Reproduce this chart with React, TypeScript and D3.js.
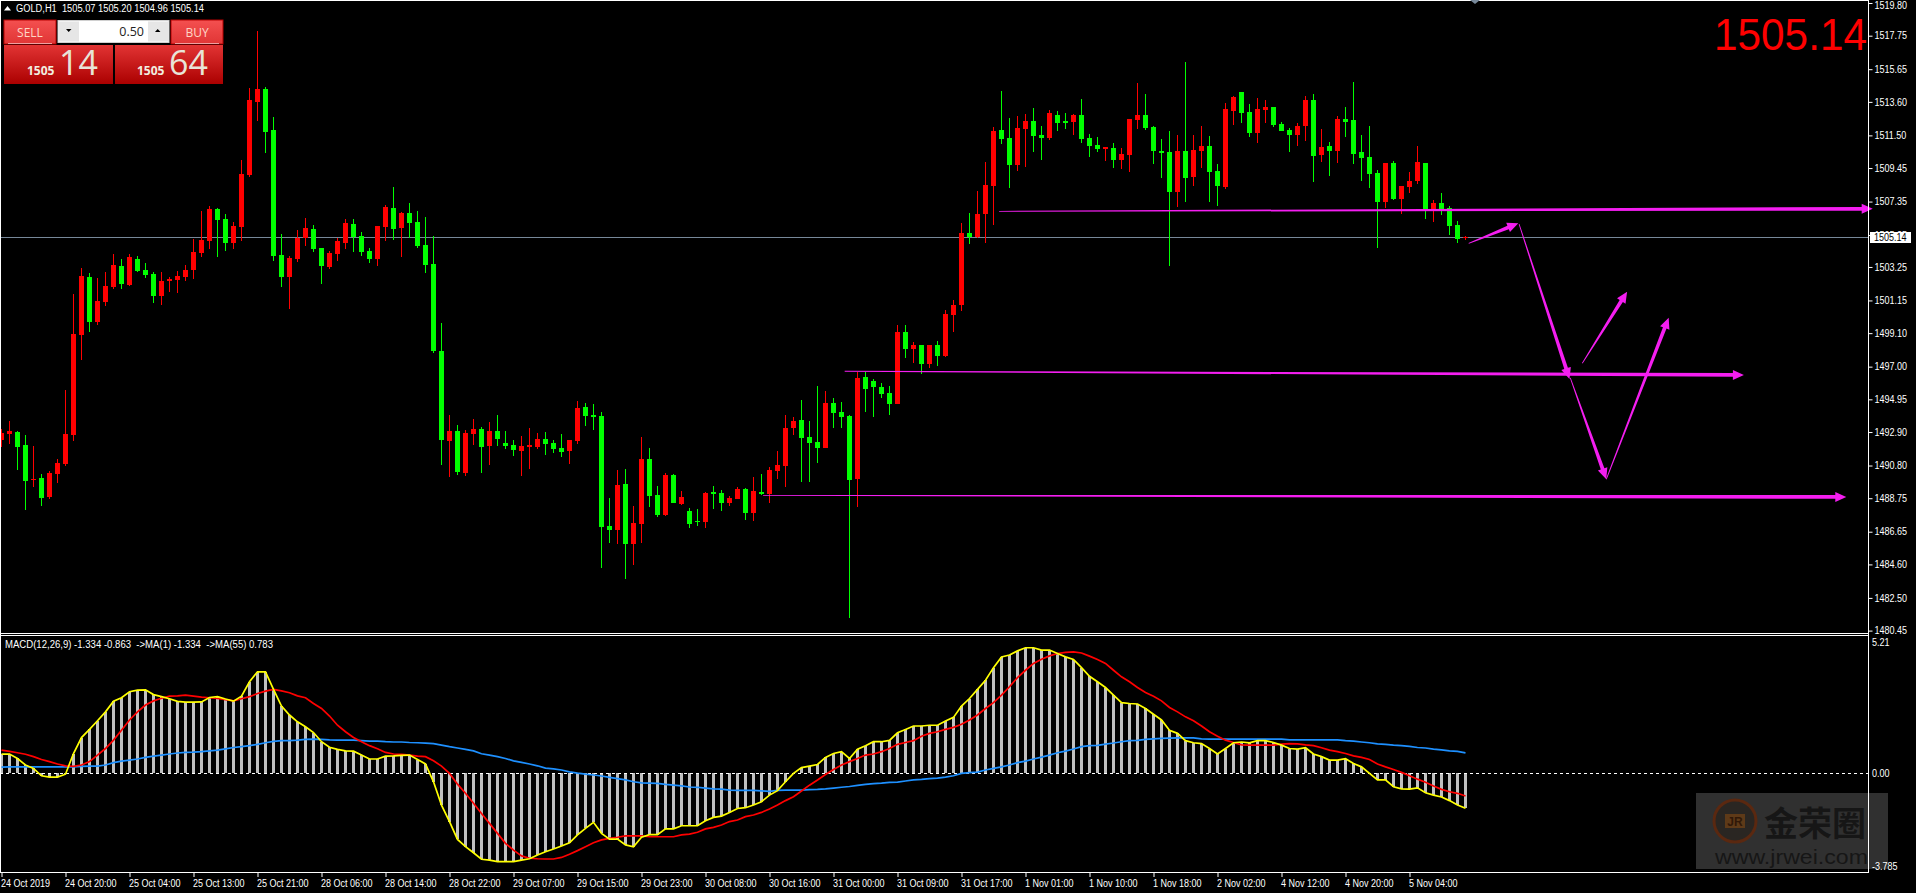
import { useEffect, useRef } from "react";
import * as d3 from "d3";

const WIDTH = 1916;
const HEIGHT = 893;

// GOLD H1 candles, left to right
const opens = [
  1492.40,1492.78,1492.90,1492.09,1489.89,1490.02,1488.83,1490.27,1490.90,1492.72,
  1498.99,1502.62,1499.80,1501.05,1501.99,1503.31,1502.12,1503.75,1503.06,1502.81,
  1501.43,1502.37,1502.43,1502.62,1503.06,1504.13,1504.88,1506.89,1506.26,1504.75,
  1505.76,1509.02,1513.60,1514.41,1511.84,1504.00,1502.62,1503.75,1505.07,1505.63,
  1504.44,1503.25,1504.06,1504.75,1505.95,1505.19,1504.25,1503.75,1505.76,1506.95,
  1505.69,1506.63,1506.07,1504.63,1503.44,1497.98,1492.34,1492.97,1490.33,1492.78,
  1493.09,1492.03,1492.97,1492.21,1492.09,1491.71,1491.96,1491.96,1492.46,1492.21,
  1491.90,1491.71,1492.34,1494.47,1493.97,1493.91,1487.01,1486.76,1489.64,1485.88,
  1487.14,1491.21,1488.95,1487.70,1490.21,1488.39,1487.95,1487.32,1487.26,1489.14,
  1489.08,1488.45,1488.70,1489.33,1487.83,1489.14,1489.02,1490.46,1490.77,1493.15,
  1493.66,1492.59,1492.28,1491.90,1494.72,1494.16,1493.91,1489.96,1496.35,1496.10,
  1495.72,1495.35,1494.66,1499.17,1498.11,1498.36,1497.17,1498.36,1497.67,1500.24,
  1500.87,1505.38,1505.13,1506.57,1508.33,1511.84,1511.34,1509.64,1511.90,1512.40,
  1511.53,1511.34,1512.78,1512.40,1512.34,1512.78,1511.34,1510.90,1510.65,1510.71,
  1509.96,1510.27,1512.47,1512.78,1512.03,1510.52,1510.46,1507.95,1510.52,1508.89,
  1510.52,1510.83,1509.27,1508.26,1513.03,1514.22,1512.97,1511.65,1513.09,1513.28,
  1512.22,1511.84,1511.53,1512.09,1513.72,1510.27,1510.83,1510.52,1512.53,1512.47,
  1510.46,1510.15,1509.14,1507.32,1509.77,1507.51,1508.26,1508.64,1509.77,1506.89,
  1507.26,1506.95,1505.88,1505.07,
];
const closes = [
  1492.84,1492.97,1491.96,1489.83,1489.96,1488.77,1490.33,1490.96,1492.78,1499.05,
  1502.68,1499.80,1501.12,1502.06,1503.37,1502.18,1503.87,1503.00,1502.75,1501.43,
  1502.37,1502.50,1502.68,1503.06,1504.19,1504.94,1506.89,1506.20,1504.75,1505.82,
  1509.08,1513.72,1514.41,1511.71,1503.94,1502.62,1503.81,1505.07,1505.69,1504.38,
  1503.31,1504.13,1504.88,1506.01,1505.13,1504.19,1503.75,1505.82,1507.01,1505.63,
  1506.63,1506.01,1504.57,1503.37,1497.98,1492.40,1492.97,1490.40,1492.84,1493.09,
  1491.96,1492.97,1492.46,1492.03,1491.78,1492.03,1492.09,1492.46,1492.15,1491.84,
  1491.65,1492.40,1494.41,1493.91,1493.84,1486.95,1486.76,1489.58,1485.88,1487.20,
  1491.21,1488.89,1487.70,1490.21,1488.45,1488.83,1487.14,1487.26,1489.08,1489.02,
  1488.45,1488.77,1489.33,1487.83,1489.20,1489.02,1490.52,1490.83,1493.15,1493.59,
  1492.53,1492.21,1491.90,1494.72,1494.09,1493.84,1489.89,1496.29,1495.60,1495.72,
  1495.29,1494.66,1499.17,1498.11,1498.36,1497.17,1498.36,1497.67,1500.30,1500.87,
  1505.38,1505.13,1506.57,1508.39,1511.78,1511.27,1509.64,1511.96,1512.40,1511.46,
  1511.34,1512.91,1512.28,1512.28,1512.78,1511.27,1510.83,1510.65,1510.77,1509.96,
  1510.33,1512.53,1512.78,1511.96,1510.52,1510.40,1507.95,1510.52,1508.83,1510.58,
  1510.83,1509.21,1508.33,1513.16,1513.91,1512.91,1511.65,1513.16,1513.28,1512.15,
  1511.78,1511.53,1512.09,1513.72,1510.21,1510.77,1510.52,1512.53,1512.34,1510.33,
  1510.08,1509.08,1507.32,1509.77,1507.51,1508.33,1508.64,1509.83,1506.89,1507.26,
  1506.89,1505.82,1505.00,1505.14,
];
const highs = [
  1493.09,1493.59,1492.97,1492.72,1492.03,1490.27,1490.46,1491.21,1495.54,1501.56,
  1503.19,1502.87,1502.56,1502.94,1504.06,1503.75,1504.06,1503.94,1503.50,1502.94,
  1502.94,1502.62,1503.00,1503.37,1505.00,1506.76,1507.07,1506.95,1506.57,1506.07,
  1509.96,1514.47,1518.05,1514.54,1512.65,1505.32,1503.94,1505.57,1506.32,1505.88,
  1504.44,1504.25,1505.07,1506.26,1506.26,1505.44,1504.44,1505.82,1507.13,1508.26,
  1506.70,1507.26,1506.76,1506.38,1505.19,1499.74,1493.97,1493.34,1493.03,1493.72,
  1493.22,1493.53,1493.97,1492.97,1492.40,1492.65,1493.15,1492.84,1492.90,1492.40,
  1492.78,1492.40,1494.85,1494.72,1494.66,1494.16,1488.77,1490.52,1490.58,1488.26,
  1492.59,1491.90,1489.52,1490.33,1490.27,1489.20,1488.14,1488.08,1489.14,1489.52,
  1489.27,1488.89,1489.45,1489.39,1490.08,1490.27,1490.71,1491.71,1493.97,1493.84,
  1494.91,1493.59,1495.79,1495.47,1495.04,1494.78,1493.97,1496.67,1496.67,1496.23,
  1495.98,1495.79,1499.61,1499.61,1498.55,1498.36,1498.36,1498.61,1500.55,1501.18,
  1506.01,1506.63,1508.01,1509.83,1512.03,1514.28,1512.59,1512.72,1512.84,1513.22,
  1512.09,1513.09,1513.03,1512.91,1512.84,1513.78,1511.59,1511.40,1510.77,1511.02,
  1510.71,1512.53,1514.79,1514.10,1512.09,1511.27,1511.78,1511.53,1516.10,1511.53,
  1512.09,1511.46,1509.71,1513.53,1513.97,1514.22,1513.47,1513.85,1513.72,1513.28,
  1512.34,1511.96,1512.28,1513.97,1514.10,1511.90,1511.09,1512.72,1513.28,1514.85,
  1511.53,1512.09,1509.33,1509.77,1509.90,1508.33,1509.21,1510.83,1509.77,1507.45,
  1507.89,1507.07,1506.13,1505.20,
];
const lows = [
  1491.96,1492.15,1490.52,1488.01,1489.45,1488.26,1488.70,1489.71,1490.77,1492.34,
  1497.42,1499.17,1499.61,1500.80,1501.87,1501.87,1502.06,1502.94,1502.56,1500.99,
  1500.87,1501.68,1501.62,1502.37,1502.50,1503.87,1504.38,1503.87,1504.25,1504.38,
  1504.88,1508.89,1512.40,1510.40,1503.62,1501.99,1500.62,1503.56,1504.57,1504.19,
  1502.18,1503.12,1503.62,1504.38,1504.19,1503.94,1503.50,1503.31,1504.88,1504.94,
  1503.87,1505.07,1504.44,1502.87,1497.86,1490.83,1490.08,1490.21,1490.15,1492.09,
  1490.33,1490.83,1492.03,1491.84,1491.40,1490.15,1490.58,1491.84,1491.46,1491.59,
  1491.34,1490.90,1492.15,1493.28,1493.03,1484.38,1485.94,1485.88,1483.69,1484.56,
  1485.94,1488.20,1487.57,1487.64,1488.45,1488.33,1486.88,1487.01,1486.88,1488.08,
  1487.95,1488.26,1488.70,1487.39,1487.32,1488.95,1488.45,1489.96,1489.45,1492.72,
  1489.77,1489.77,1490.96,1491.90,1493.15,1493.15,1481.24,1488.20,1494.16,1493.84,
  1495.04,1493.97,1494.66,1497.55,1497.23,1496.54,1496.92,1497.04,1497.61,1499.17,
  1500.49,1504.69,1505.07,1504.75,1505.88,1510.96,1508.20,1509.27,1509.52,1510.46,
  1509.96,1511.21,1511.78,1511.90,1511.53,1511.02,1510.15,1510.46,1509.90,1509.46,
  1509.39,1509.21,1511.90,1511.84,1509.71,1508.83,1503.31,1507.01,1507.32,1508.33,
  1509.46,1507.32,1507.07,1508.14,1512.15,1512.28,1511.40,1511.02,1512.28,1512.03,
  1511.78,1510.46,1510.83,1511.15,1508.58,1509.83,1508.95,1509.77,1511.40,1509.71,
  1508.64,1508.20,1504.44,1506.95,1507.45,1506.57,1507.89,1508.45,1506.26,1506.07,
  1506.51,1505.26,1504.75,1504.96,
];

// MACD pane: histogram and yellow line share one series
const macd = [
  0.74,0.74,0.57,0.32,0.19,-0.09,-0.14,-0.14,-0.03,0.76,
  1.37,1.68,2.01,2.35,2.76,2.89,3.12,3.18,3.19,3.01,
  2.93,2.85,2.75,2.72,2.72,2.73,2.90,2.93,2.84,2.76,
  2.95,3.50,3.88,3.88,3.21,2.57,2.23,1.97,1.78,1.56,
  1.21,1.00,0.92,0.86,0.85,0.70,0.55,0.55,0.66,0.67,
  0.69,0.70,0.53,0.36,-0.32,-1.21,-1.84,-2.52,-2.80,-3.03,
  -3.28,-3.31,-3.37,-3.37,-3.37,-3.31,-3.26,-3.12,-2.99,-2.89,
  -2.77,-2.65,-2.35,-2.10,-1.87,-2.29,-2.51,-2.51,-2.73,-2.80,
  -2.44,-2.34,-2.34,-2.12,-2.12,-2.00,-2.00,-2.00,-1.81,-1.68,
  -1.63,-1.49,-1.34,-1.31,-1.21,-1.08,-0.83,-0.66,-0.32,0.00,
  0.22,0.28,0.34,0.61,0.76,0.83,0.57,0.92,1.06,1.21,
  1.21,1.26,1.55,1.68,1.81,1.81,1.84,1.84,2.00,2.14,
  2.57,2.86,3.21,3.56,4.04,4.45,4.52,4.68,4.80,4.80,
  4.71,4.71,4.58,4.45,4.35,4.04,3.71,3.50,3.28,2.99,
  2.70,2.67,2.65,2.48,2.26,2.04,1.65,1.53,1.25,1.17,
  1.14,0.95,0.74,0.95,1.17,1.20,1.17,1.25,1.25,1.18,
  1.08,0.95,0.93,0.98,0.74,0.64,0.51,0.51,0.56,0.38,
  0.25,0.00,-0.25,-0.25,-0.51,-0.59,-0.60,-0.55,-0.74,-0.83,
  -0.90,-1.04,-1.21,-1.334,
];
const signal = [
  0.89,0.84,0.79,0.73,0.64,0.53,0.45,0.36,0.29,0.27,
  0.32,0.45,0.70,0.95,1.27,1.65,2.04,2.35,2.61,2.77,
  2.87,2.95,2.96,2.99,2.95,2.91,2.89,2.86,2.82,2.77,
  2.85,2.93,3.05,3.14,3.21,3.15,3.08,2.96,2.89,2.67,
  2.48,2.19,1.84,1.59,1.37,1.21,1.06,0.94,0.80,0.74,
  0.73,0.70,0.66,0.64,0.48,0.28,0.00,-0.41,-0.76,-1.14,
  -1.53,-1.91,-2.29,-2.67,-2.93,-3.15,-3.24,-3.26,-3.27,-3.27,
  -3.21,-3.09,-2.95,-2.80,-2.65,-2.54,-2.48,-2.44,-2.39,-2.39,
  -2.39,-2.42,-2.42,-2.42,-2.42,-2.35,-2.32,-2.25,-2.12,-2.06,
  -1.97,-1.84,-1.78,-1.65,-1.59,-1.49,-1.36,-1.21,-1.04,-0.89,
  -0.67,-0.45,-0.25,-0.04,0.15,0.32,0.45,0.57,0.70,0.74,
  0.83,0.95,1.11,1.18,1.25,1.42,1.53,1.59,1.68,1.76,
  1.88,2.04,2.23,2.48,2.70,2.99,3.31,3.66,3.94,4.20,
  4.36,4.49,4.58,4.62,4.64,4.60,4.48,4.35,4.20,3.94,
  3.69,3.50,3.28,3.09,2.95,2.77,2.52,2.35,2.16,2.01,
  1.81,1.59,1.42,1.27,1.18,1.09,1.08,1.08,1.08,1.08,
  1.12,1.14,1.13,1.09,1.06,0.98,0.89,0.83,0.76,0.67,
  0.61,0.53,0.36,0.25,0.15,0.04,-0.09,-0.22,-0.34,-0.48,
  -0.61,-0.70,-0.76,-0.863,
];
const ma55 = [
  0.24,0.25,0.25,0.25,0.25,0.25,0.25,0.25,0.25,0.25,
  0.27,0.28,0.28,0.32,0.41,0.47,0.51,0.55,0.61,0.66,
  0.70,0.74,0.78,0.80,0.81,0.83,0.86,0.89,0.94,0.99,
  1.02,1.06,1.11,1.17,1.22,1.25,1.25,1.27,1.30,1.31,
  1.30,1.28,1.27,1.27,1.27,1.25,1.23,1.23,1.21,1.20,
  1.20,1.18,1.17,1.16,1.14,1.08,1.02,0.97,0.92,0.86,
  0.75,0.70,0.64,0.57,0.48,0.42,0.36,0.29,0.20,0.17,
  0.13,0.06,0.01,-0.03,-0.06,-0.10,-0.15,-0.20,-0.25,-0.32,
  -0.36,-0.37,-0.38,-0.42,-0.45,-0.48,-0.52,-0.53,-0.56,-0.59,
  -0.60,-0.64,-0.65,-0.65,-0.65,-0.67,-0.69,-0.65,-0.64,-0.64,
  -0.64,-0.62,-0.61,-0.59,-0.56,-0.53,-0.50,-0.46,-0.42,-0.39,
  -0.37,-0.34,-0.33,-0.29,-0.25,-0.23,-0.20,-0.18,-0.14,-0.09,
  0.00,0.03,0.05,0.13,0.19,0.25,0.32,0.41,0.47,0.55,
  0.62,0.70,0.79,0.85,0.93,1.02,1.06,1.07,1.12,1.16,
  1.21,1.25,1.26,1.30,1.32,1.34,1.35,1.36,1.36,1.36,
  1.32,1.31,1.31,1.31,1.31,1.31,1.31,1.31,1.31,1.31,
  1.31,1.28,1.28,1.28,1.28,1.28,1.28,1.28,1.25,1.23,
  1.20,1.17,1.13,1.11,1.08,1.06,1.03,0.99,0.97,0.93,
  0.90,0.86,0.84,0.783,
];

const priceTicks = [
  1519.8,1517.75,1515.65,1513.6,1511.5,1509.45,1507.35,1505.25,1503.25,1501.15,
  1499.1,1497.0,1494.95,1492.9,1490.8,1488.75,1486.65,1484.6,1482.5,1480.45,
];
const timeLabels = [
  "24 Oct 2019","24 Oct 20:00","25 Oct 04:00","25 Oct 13:00","25 Oct 21:00","28 Oct 06:00",
  "28 Oct 14:00","28 Oct 22:00","29 Oct 07:00","29 Oct 15:00","29 Oct 23:00","30 Oct 08:00",
  "30 Oct 16:00","31 Oct 00:00","31 Oct 09:00","31 Oct 17:00","1 Nov 01:00","1 Nov 10:00",
  "1 Nov 18:00","2 Nov 02:00","4 Nov 12:00","4 Nov 20:00","5 Nov 04:00",
];

// Hand drawn arrows as [bar, price] pairs: start then tip
const arrows: number[][] = [
  [124.7, 1506.74, 233.9, 1506.9],
  [105.4, 1496.71, 217.8, 1496.48],
  [95.2, 1488.93, 230.6, 1488.83],
  [183.4, 1504.73, 189.6, 1505.99],
  [189.7, 1505.93, 196.0, 1496.23],
  [196.1, 1496.29, 200.6, 1489.94],
  [200.6, 1489.94, 208.4, 1500.07],
  [197.6, 1497.21, 203.2, 1501.7],
];

const LABEL_FONT = "'Liberation Sans', sans-serif";
const MAGENTA = "#f41ef0";

// The terminal font is narrower than anything installed, so squeeze the labels a bit
const squeeze = (sel: d3.Selection<any, any, any, any>, factor = 0.9) => {
  sel.each(function () {
    const node = this as SVGTextElement;
    d3.select(node)
      .attr("textLength", node.getComputedTextLength() * factor)
      .attr("lengthAdjust", "spacingAndGlyphs");
  });
};

const App = () => {
  const svgRef = useRef<SVGSVGElement>(null);

  useEffect(() => {
    if (!svgRef.current) return;
    document.body.style.margin = "0";
    document.body.style.background = "#000";

    const svg = d3.select(svgRef.current);
    svg.selectAll("*").remove();

    const x = d3.scaleLinear().domain([0, 183]).range([1.5, 1465.5]);
    const y = d3.scaleLinear().domain([1519.8, 1480.45]).range([3, 630.6]);
    const yMacd = d3.scaleLinear().domain([0, 5.21]).range([773.4, 637]);
    const axisX = 1868.5;

    const defs = svg.append("defs");
    const gradient = (id: string, top: string, bottom: string) => {
      const g = defs.append("linearGradient").attr("id", id).attr("x2", 0).attr("y2", 1);
      g.append("stop").attr("offset", 0).attr("stop-color", top);
      g.append("stop").attr("offset", 1).attr("stop-color", bottom);
    };
    gradient("btnTop", "#f45050", "#e03535");
    gradient("btnBottom", "#e23434", "#ab0000");

    // Watermark sits under everything else
    const mark = svg.append("g");
    mark.append("rect").attr("x", 1696).attr("y", 793).attr("width", 192).attr("height", 76).attr("fill", "#303030");
    mark.append("circle").attr("cx", 1735).attr("cy", 821).attr("r", 21).attr("fill", "#2a2622")
      .attr("stroke", "#5a2810").attr("stroke-width", 3);
    mark.append("rect").attr("x", 1725).attr("y", 814).attr("width", 20).attr("height", 14).attr("fill", "#5e3a18");
    mark.append("text").attr("x", 1735).attr("y", 826).attr("text-anchor", "middle")
      .attr("font-family", LABEL_FONT).attr("font-weight", "bold").attr("font-size", 12).attr("fill", "#301808").text("JR");
    mark.append("text").attr("x", 1764).attr("y", 836).attr("font-family", "'Noto Sans CJK SC'")
      .attr("font-weight", "bold").attr("font-size", 34).attr("fill", "#161616").text("金荣圈");
    mark.append("text").attr("x", 1715).attr("y", 864).attr("font-family", LABEL_FONT)
      .attr("font-size", 21).attr("textLength", 153).attr("lengthAdjust", "spacingAndGlyphs")
      .attr("fill", "#161616").text("www.jrwei.com");

    // Current price line
    svg.append("rect").attr("x", 1).attr("y", Math.round(y(1505.14))).attr("width", axisX - 1).attr("height", 1).attr("fill", "#778899");

    // Candles
    const candles = svg.append("g").attr("shape-rendering", "crispEdges");
    const candle = candles.selectAll("g").data(opens).join("g");
    const colorOf = (i: number) => (closes[i] > opens[i] ? "#ff0000" : "#00ff00");
    candle.append("rect")
      .attr("x", (_, i) => x(i) - 0.5)
      .attr("width", 1)
      .attr("y", (_, i) => Math.round(y(highs[i])))
      .attr("height", (_, i) => Math.max(1, Math.round(y(lows[i])) - Math.round(y(highs[i]))))
      .attr("fill", (_, i) => colorOf(i));
    candle.append("rect")
      .attr("x", (_, i) => x(i) - 2.5)
      .attr("width", 5)
      .attr("y", (_, i) => Math.round(y(Math.max(opens[i], closes[i]))))
      .attr("height", (_, i) => Math.max(1, Math.round(y(Math.min(opens[i], closes[i]))) - Math.round(y(Math.max(opens[i], closes[i])))))
      .attr("fill", (_, i) => colorOf(i));

    // Tapered hand drawn arrows
    const arrowGroup = svg.append("g").attr("fill", MAGENTA);
    arrows.forEach(([b0, p0, b1, p1]) => {
      const x0 = x(b0), y0 = y(p0), x1 = x(b1), y1 = y(p1);
      const len = Math.hypot(x1 - x0, y1 - y0);
      const ux = (x1 - x0) / len, uy = (y1 - y0) / len;
      const nx = -uy, ny = ux;
      const neck = 11;
      const nkx = x1 - ux * neck, nky = y1 - uy * neck;
      const pts: [number, number][] = [
        [x0 + nx * 0.4, y0 + ny * 0.4],
        [nkx + nx * 1.9, nky + ny * 1.9],
        [nkx + nx * 5, nky + ny * 5],
        [x1, y1],
        [nkx - nx * 5, nky - ny * 5],
        [nkx - nx * 1.9, nky - ny * 1.9],
        [x0 - nx * 0.4, y0 - ny * 0.4],
      ];
      arrowGroup.append("polygon").attr("points", pts.map((p) => p.join(",")).join(" "));
    });

    // MACD histogram
    const macdGroup = svg.append("g");
    macdGroup.append("g").attr("shape-rendering", "crispEdges").selectAll("rect").data(macd).join("rect")
      .attr("x", (_, i) => x(i) - 1.5)
      .attr("width", 3)
      .attr("y", (d) => Math.min(yMacd(d), yMacd(0)))
      .attr("height", (d) => Math.abs(yMacd(d) - yMacd(0)))
      .attr("fill", "#c0c0c0");
    macdGroup.append("line").attr("x1", 0).attr("x2", axisX).attr("y1", 773.5).attr("y2", 773.5)
      .attr("stroke", "#fff").attr("stroke-dasharray", "3 3").attr("shape-rendering", "crispEdges");

    const macdLine = d3.line<number>().x((_, i) => x(i)).y((d) => yMacd(d));
    [
      { values: ma55, color: "#1e90ff" },
      { values: signal, color: "#ff0000" },
      { values: macd, color: "#ffff00" },
    ].forEach(({ values, color }) => {
      macdGroup.append("path").attr("d", macdLine(values)).attr("fill", "none")
        .attr("stroke", color).attr("stroke-width", 1.7);
    });

    // Pane frame
    const frame = svg.append("g").attr("stroke", "#fff").attr("shape-rendering", "crispEdges");
    [
      [0, 0.5, axisX, 0.5],
      [0.5, 0, 0.5, 873],
      [0, 633.5, axisX, 633.5],
      [0, 635.5, axisX, 635.5],
      [0, 872.5, axisX, 872.5],
      [axisX, 0, axisX, 873],
    ].forEach(([a, b, c, d]) => frame.append("line").attr("x1", a).attr("y1", b).attr("x2", c).attr("y2", d));

    svg.append("path").attr("d", "M1470,0H1480L1475,4Z").attr("fill", "#778899");

    // Price axis
    const priceAxis = svg.append("g").attr("transform", `translate(${axisX},0)`)
      .call(d3.axisRight(y).tickValues(priceTicks).tickSize(4).tickPadding(2).tickFormat((d) => d3.format(".2f")(d as number)));
    priceAxis.select(".domain").remove();
    priceAxis.selectAll(".tick line").attr("stroke", "#fff");
    const priceText = priceAxis.selectAll("text").attr("fill", "#fff").attr("font-family", LABEL_FONT).attr("font-size", 10);
    squeeze(priceText);
    // Top label would otherwise run off the page
    priceAxis.select(".tick text").attr("dy", "0.55em");

    // Live price tag
    svg.append("rect").attr("x", 1870).attr("y", 232).attr("width", 41).attr("height", 11).attr("fill", "#fff");
    squeeze(svg.append("text").attr("x", 1874).attr("y", 241).attr("font-family", LABEL_FONT).attr("font-size", 10).attr("fill", "#000").text("1505.14"));

    // MACD labels
    const macdLabels = [
      { text: "5.21", at: 642 },
      { text: "0.00", at: 773.5 },
      { text: "-3.785", at: 866 },
    ];
    squeeze(svg.append("g").selectAll("text").data(macdLabels).join("text")
      .attr("x", 1872).attr("y", (d) => d.at + 3.5)
      .attr("font-family", LABEL_FONT).attr("font-size", 10).attr("fill", "#fff")
      .text((d) => d.text));

    // Time axis
    const timeAxis = svg.append("g").attr("transform", "translate(0,873)")
      .call(d3.axisBottom(x).tickValues(timeLabels.map((_, i) => i * 8)).tickSize(4).tickPadding(3)
        .tickFormat((_, i) => timeLabels[i]));
    timeAxis.select(".domain").remove();
    timeAxis.selectAll(".tick line").attr("stroke", "#fff");
    const timeText = timeAxis.selectAll("text").attr("fill", "#fff").attr("text-anchor", "start").attr("x", -1)
      .attr("font-family", LABEL_FONT).attr("font-size", 10);
    squeeze(timeText);

    // Header and indicator captions
    svg.append("path").attr("d", "M4,10.5L7.5,6L11,10.5Z").attr("fill", "#fff");
    svg.append("text").attr("x", 16).attr("y", 12).attr("font-family", LABEL_FONT).attr("font-size", 10).attr("fill", "#fff")
      .attr("xml:space", "preserve").attr("textLength", 188).attr("lengthAdjust", "spacingAndGlyphs")
      .text("GOLD,H1  1505.07 1505.20 1504.96 1505.14");
    svg.append("text").attr("x", 5).attr("y", 648).attr("font-family", LABEL_FONT).attr("font-size", 10).attr("fill", "#fff")
      .attr("xml:space", "preserve").attr("textLength", 268).attr("lengthAdjust", "spacingAndGlyphs")
      .text("MACD(12,26,9) -1.334 -0.863  ->MA(1) -1.334  ->MA(55) 0.783");

    // Big price readout
    svg.append("text").attr("x", 1714).attr("y", 50).attr("font-family", LABEL_FONT).attr("font-size", 43.5)
      .attr("textLength", 153).attr("lengthAdjust", "spacingAndGlyphs").attr("fill", "#ff0000").text("1505.14");

    // One click trading panel
    const panel = svg.append("g").attr("font-family", "'Open Sans', 'Liberation Sans', sans-serif");
    const tradeBox = (bx: number, w: number, label: string, labelX: number, labelW: number, cents: string, priceX: number) => {
      panel.append("rect").attr("x", labelX).attr("y", 20).attr("width", labelW).attr("height", 24).attr("fill", "url(#btnTop)")
        .attr("stroke", "#b80000");
      panel.append("line").attr("x1", labelX + 4).attr("x2", labelX + labelW - 4).attr("y1", 43.5).attr("y2", 43.5).attr("stroke", "#f0a0a0");
      panel.append("text").attr("x", labelX + labelW / 2).attr("y", 37).attr("text-anchor", "middle").attr("font-size", 12)
        .attr("fill", "#ffd5c5").text(label);
      panel.append("rect").attr("x", bx).attr("y", 45).attr("width", w).attr("height", 39).attr("fill", "url(#btnBottom)");
      panel.append("text").attr("x", priceX).attr("y", 75).attr("font-size", 12).attr("font-weight", "bold").attr("fill", "#f2eee0").text("1505");
      panel.append("text").attr("x", priceX + 32).attr("y", 75).attr("font-size", 34).attr("fill", "#e8e4d8").text(cents);
    };
    tradeBox(4, 109, "SELL", 4, 52, "14", 27);
    tradeBox(115, 108, "BUY", 171, 52, "64", 137);

    panel.append("rect").attr("x", 58).attr("y", 20.5).attr("width", 111).attr("height", 22).attr("fill", "#fff").attr("stroke", "#d0d0d0");
    panel.append("rect").attr("x", 59).attr("y", 21.5).attr("width", 20).attr("height", 20).attr("fill", "#e6e6e6");
    panel.append("rect").attr("x", 148).attr("y", 21.5).attr("width", 20).attr("height", 20).attr("fill", "#e6e6e6");
    panel.append("path").attr("d", "M66,29H71.5L68.7,32Z M155,32H160.5L157.7,29Z").attr("fill", "#000");
    panel.append("text").attr("x", 144).attr("y", 35.5).attr("text-anchor", "end").attr("font-size", 12.5).attr("fill", "#222").text("0.50");
  }, []);

  return (
    <svg
      ref={svgRef}
      width={WIDTH}
      height={HEIGHT}
      viewBox={`0 0 ${WIDTH} ${HEIGHT}`}
      style={{ display: "block", background: "#000" }}
    />
  );
};

export default App;
